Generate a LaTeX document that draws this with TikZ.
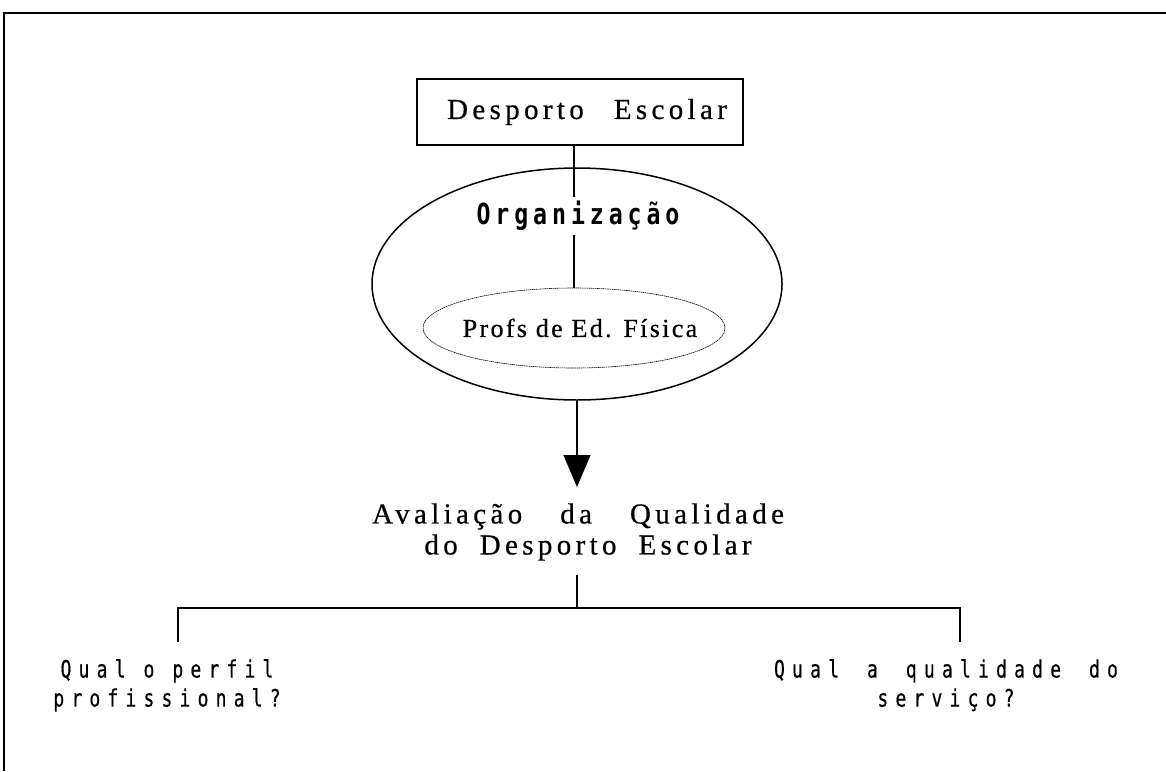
\documentclass[tikz,border=0pt]{standalone}
\usepackage{fontspec}
\usetikzlibrary{shapes.geometric,arrows.meta}
\newfontfamily\serls[LetterSpace=15,FakeBold=0.6]{Liberation Serif}
\newfontfamily\serlsb[LetterSpace=9,FakeBold=0.6]{Liberation Serif}
\newfontfamily\monols[LetterSpace=30,FakeStretch=0.75,FakeBold=0.5]{DejaVu Sans Mono}
\newfontfamily\monolsb[LetterSpace=17,FakeStretch=0.8]{DejaVu Sans Mono Bold}
\newcommand{\wgap}{\hspace{30pt}}
\newcommand{\agap}{\hspace{38pt}}
\newcommand{\bgap}{\hspace{22pt}}
\newcommand{\mgap}{\hspace{10pt}}
\begin{document}
\begin{tikzpicture}[x=1pt,y=-1pt,
  conn/.style={line width=1.4pt},
  serbig/.style={font=\fontsize{29}{31}\selectfont\serls},
  monotext/.style={font=\fontsize{24}{29}\selectfont\monols}]
\useasboundingbox (0,0) rectangle (1166,771);
% frame
\coordinate (fbl) at (4,771);
\coordinate (ftl) at (4,13);
\coordinate (ftr) at (1166,13);
\draw[line width=2pt] (fbl) -- (ftl) -- (ftr);
% box
\node[draw,line width=1.5pt,rectangle,minimum width=326pt,minimum height=66pt,inner sep=0pt,serbig]
  (desp) at (580,112) {\hspace{14pt}Desporto\wgap Escolar};
% outer ellipse
\node[draw,line width=1.5pt,ellipse,minimum width=410pt,minimum height=232pt,inner sep=0pt] (org) at (577,284) {};
\node[inner sep=4pt,font=\fontsize{29}{29}\selectfont\monolsb] (orgt) at (578,216) {Organização};
% inner ellipse
\node[draw,line width=0.6pt,dash pattern=on 1.5pt off 0.6pt,ellipse,minimum width=302pt,minimum height=80pt,inner sep=0pt] (profs) at (574,328) {};
\node[inner sep=0pt,font=\fontsize{26}{28}\selectfont\serlsb] (profst) at (580,328) {Profs de Ed. Física};
\coordinate (vx) at (574,0);
\draw[conn] (vx |- desp.south) -- (vx |- orgt.north);
\draw[conn] (vx |- orgt.south) -- (vx |- profs.north);
% arrow
\node[serbig,align=center,inner sep=2pt] (aval) at (578,532) {Avaliação\agap da\agap Qualidade\\\hspace*{20pt}do\bgap Desporto\bgap Escolar};
\coordinate (atip) at (577,487);
\draw[conn,-{Triangle[length=32pt,width=27pt]}] (org.south) -- (atip);
% tree
\coordinate (tc) at (577,608);
\coordinate (tl) at (178,608);
\coordinate (tr) at (960,608);
\node[monotext,anchor=north,align=center,inner sep=0pt] (q1) at (167,659) {Qual o perfil\\profissional?};
\node[monotext,anchor=north,align=center,inner sep=0pt] (q2) at (946,659) {Qual \mgap a \mgap qualidade \mgap do\\serviço?};
\coordinate (q1t) at (178,642);
\coordinate (q2t) at (960,642);
\draw[conn] ([yshift=-12pt]tc |- aval.south) -- (tc);
\draw[line width=1.2pt] (q1t) -- (tl) -- (tr) -- (q2t);
\end{tikzpicture}
\end{document}
